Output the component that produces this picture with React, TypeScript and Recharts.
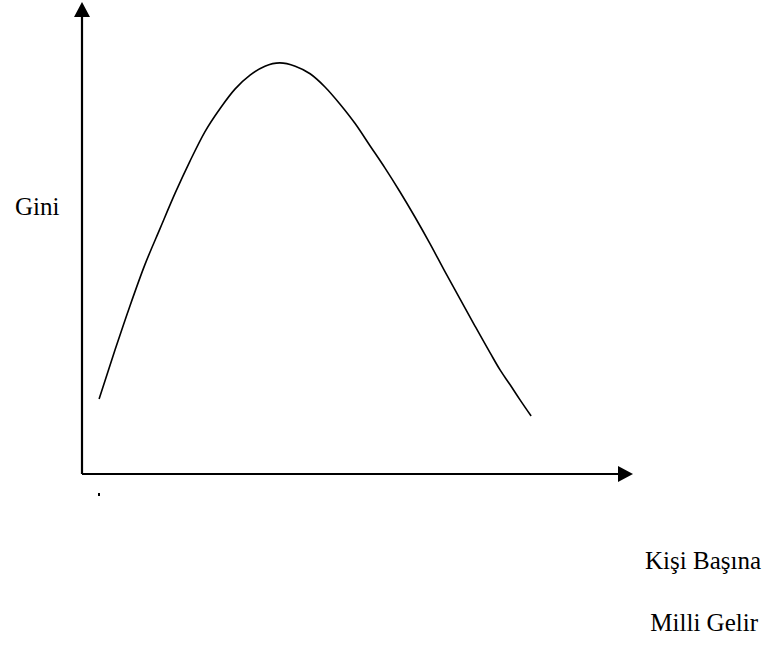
import { LineChart, Line, XAxis, YAxis, ReferenceLine } from "recharts";

// Kuznets eğrisi: kişi başına milli gelir (x) - Gini (y), 0-100 birim
const gelir = [3.1, 6.0, 8.7, 11.4, 14.2, 16.9, 19.6, 22.3, 25.1, 27.8, 30.5, 33.2, 35.9, 38.7, 41.4, 44.1, 46.8, 49.6, 52.3, 55.0, 57.7, 60.4, 63.2, 65.9, 68.6, 71.3, 74.1, 75.9, 77.7, 79.5, 81.5];
const gini = [15.9, 26.3, 35.6, 44.3, 52.1, 59.5, 66.3, 72.5, 77.5, 81.6, 84.5, 86.4, 87.1, 86.4, 84.8, 82.0, 78.4, 74.2, 69.5, 64.8, 59.8, 54.5, 48.7, 42.8, 37.1, 31.4, 25.6, 22.0, 18.9, 15.7, 12.3];
const yLabel = "Gini";
const xLabel = ["Kişi Başına", "Milli Gelir"];

const data = gelir.map((g, i) => ({ gelir: g, gini: gini[i] }));

const ArrowAxis = (props: any) => {
  const { x1, y1, x2, y2 } = props;
  const len = 15;
  const half = 8;
  const dx = x2 - x1;
  const dy = y2 - y1;
  const d = Math.sqrt(dx * dx + dy * dy) || 1;
  const ux = dx / d;
  const uy = dy / d;
  const bx = x2 - ux * len;
  const by = y2 - uy * len;
  const pts = `${x2},${y2} ${bx - uy * half},${by + ux * half} ${bx + uy * half},${by - ux * half}`;
  return (
    <g>
      <line x1={x1} y1={y1} x2={bx} y2={by} stroke="#000" strokeWidth={2.2} />
      <polygon points={pts} fill="#000" />
    </g>
  );
};

const font = "Times New Roman, Liberation Serif, DejaVu Serif, serif";

export default function App() {
  return (
    <div style={{ position: "absolute", left: 0, top: 0, width: 765, height: 651, background: "#fff" }}>
      <LineChart
        width={765}
        height={651}
        data={data}
        margin={{ top: 2, left: 82, right: 132, bottom: 177 }}
      >
        <XAxis dataKey="gelir" type="number" domain={[0, 100]} hide />
        <YAxis type="number" domain={[0, 100]} hide />
        <ReferenceLine
          segment={[{ x: 0, y: 0 }, { x: 0, y: 100 }]}
          ifOverflow="visible"
          shape={ArrowAxis}
        />
        <ReferenceLine
          segment={[{ x: 0, y: 0 }, { x: 100, y: 0 }]}
          ifOverflow="visible"
          shape={ArrowAxis}
        />
        <Line
          dataKey="gini"
          type="monotone"
          stroke="#000"
          strokeWidth={1.6}
          dot={false}
          activeDot={false}
          isAnimationActive={false}
        />
      </LineChart>
      <svg
        width={765}
        height={651}
        style={{ position: "absolute", left: 0, top: 0, pointerEvents: "none" }}
      >
        <text x={15} y={215} fontFamily={font} fontSize={25} fill="#000">
          {yLabel}
        </text>
        <rect x={98} y={493} width={2} height={3} fill="#000" />
        <text x={761} y={569} fontFamily={font} fontSize={25} fill="#000" textAnchor="end">
          {xLabel[0]}
        </text>
        <text x={758} y={631} fontFamily={font} fontSize={25} fill="#000" textAnchor="end">
          {xLabel[1]}
        </text>
      </svg>
    </div>
  );
}
